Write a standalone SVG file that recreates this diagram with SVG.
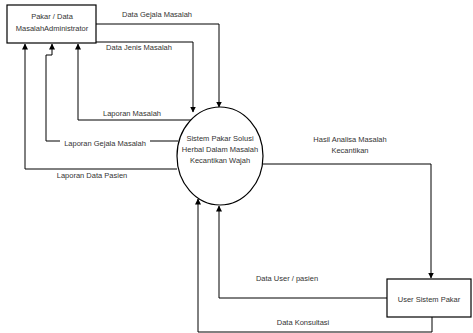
<svg xmlns="http://www.w3.org/2000/svg" width="473" height="333" viewBox="0 0 473 333">
<defs>
<marker id="arr" markerWidth="6" markerHeight="6" refX="5.5" refY="3" orient="auto" markerUnits="userSpaceOnUse">
<path d="M0,0 L6,3 L0,6 Z" fill="#000"/>
</marker>
<style>
.box{fill:#fff;stroke:#000;stroke-width:1.2}
.ln{fill:none;stroke:#000;stroke-width:1}
text{font-family:"Liberation Sans",Arial,sans-serif;font-size:7.5px;fill:#333;text-anchor:middle}
.bg{fill:#fff}
</style>
</defs>
<rect width="473" height="333" fill="#fff"/>
<g id="connectors">
<path class="ln" d="M96,24 H219 V107" marker-end="url(#arr)"/>
<path class="ln" d="M96,42 H193 V112" marker-end="url(#arr)"/>
<path class="ln" d="M193,120 H78 V44" marker-end="url(#arr)"/>
<path class="ln" d="M178,141 H46 V55 H52 V44" marker-end="url(#arr)"/>
<path class="ln" d="M177,169 H25 V44" marker-end="url(#arr)"/>
<path class="ln" d="M263,164 H431 V278" marker-end="url(#arr)"/>
<path class="ln" d="M387,298 H219 V206" marker-end="url(#arr)"/>
<path class="ln" d="M432,317 V332 H198 V199" marker-end="url(#arr)"/>
<rect class="bg" x="100" y="108" width="64" height="9"/>
<rect class="bg" x="60" y="138" width="90" height="9"/>
<text x="157" y="17">Data Gejala Masalah</text>
<text x="139" y="50">Data Jenis Masalah</text>
<text x="132" y="116">Laporan Masalah</text>
<text x="105" y="146">Laporan Gejala Masalah</text>
<text x="92" y="178">Laporan Data Pasien</text>
<text x="350" y="142">Hasil Analisa Masalah</text>
<text x="350" y="153">Kecantikan</text>
<text x="287" y="281">Data User / pasien</text>
<text x="303" y="325">Data Konsultasi</text>
</g>
<g id="pakar">
<rect class="box" x="7" y="5" width="89" height="38"/>
<text x="52" y="19">Pakar / Data</text>
<text x="52" y="31">MasalahAdministrator</text>
</g>
<g id="sistem">
<ellipse class="box" cx="220" cy="156" rx="43" ry="49"/>
<text x="220" y="141">Sistem Pakar Solusi</text>
<text x="220" y="152">Herbal Dalam Masalah</text>
<text x="220" y="163">Kecantikan Wajah</text>
</g>
<g id="user">
<rect class="box" x="387" y="279" width="84" height="38"/>
<text x="429" y="302">User Sistem Pakar</text>
</g>
</svg>
